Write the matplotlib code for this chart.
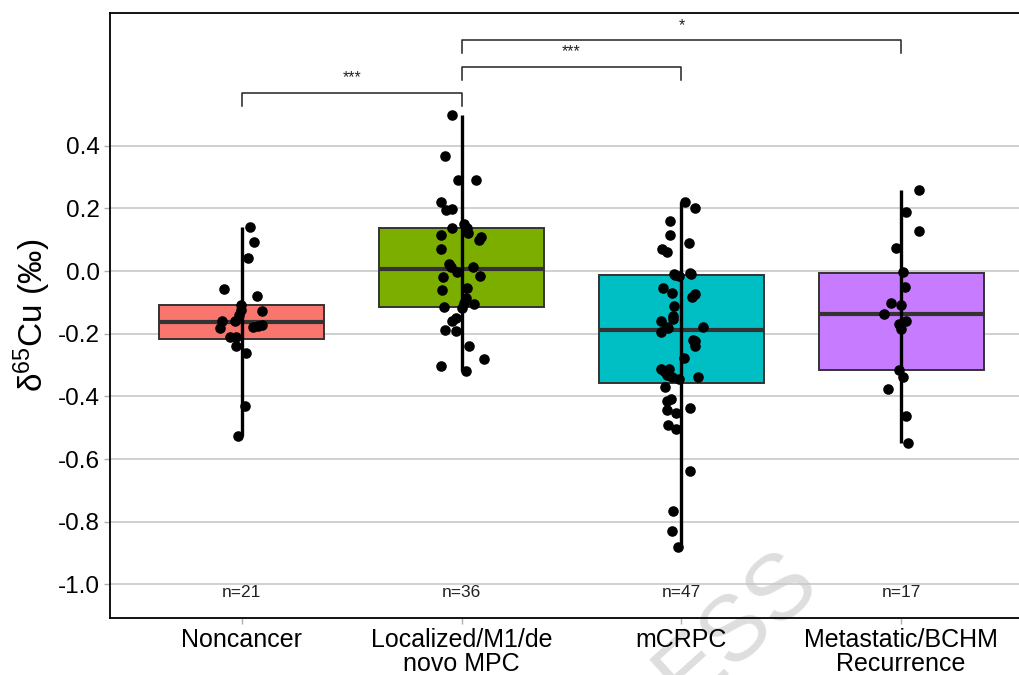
import matplotlib
matplotlib.use('Agg')
import matplotlib.pyplot as plt

plt.rcParams['font.family'] = ['Liberation Sans', 'DejaVu Sans']
plt.rcParams['mathtext.default'] = 'regular'

groups = ['Noncancer', 'Localized/M1/de\nnovo MPC', 'mCRPC', 'Metastatic/BCHM\nRecurrence']
colors = ['#F8766D', '#7CAE00', '#00BFC4', '#C77CFF']
n_labels = ['n=21', 'n=36', 'n=47', 'n=17']

# box stats
q1 = [-0.216, -0.115, -0.357, -0.316]
med = [-0.163, 0.005, -0.189, -0.137]
q3 = [-0.108, 0.137, -0.013, -0.005]

# points (value, horizontal jitter)
noncancer = [0.141, 0.093, 0.042, -0.058, -0.081, -0.129, -0.110, -0.140, -0.158, -0.161, -0.182,
             -0.177, -0.174, -0.171, -0.211, -0.211, -0.240, -0.263, -0.431, -0.526, -0.125]
noncancer_j = [0.036, 0.055, 0.026, -0.082, 0.071, 0.094, -0.005, -0.012, -0.032, -0.090, -0.100,
               0.051, 0.074, 0.094, -0.055, -0.027, -0.027, 0.021, 0.014, -0.017, -0.005]

localized = [0.498, 0.366, 0.291, 0.291, 0.220, 0.194, 0.197, 0.138, 0.151, 0.136, 0.120, 0.114,
             0.098, 0.109, 0.071, 0.022, 0.014, -0.002, 0.012, -0.016, -0.020, -0.060, -0.055, -0.087,
             -0.105, -0.103, -0.115, -0.118, -0.150, -0.158, -0.187, -0.190, -0.240, -0.280, -0.304, -0.320]
localized_j = [-0.045, -0.077, -0.015, 0.064, -0.092, -0.073, -0.045, -0.042, 0.010, 0.023, 0.029, -0.092,
               0.079, 0.090, -0.092, -0.058, -0.047, -0.020, 0.053, 0.083, -0.083, -0.088, 0.023, 0.018,
               0.056, 0.010, -0.081, 0.000, -0.027, -0.045, -0.077, -0.024, 0.033, 0.101, -0.095, 0.018]

mcrpc = [0.220, 0.202, 0.159, 0.116, 0.088, 0.069, 0.061, -0.011, -0.016, -0.005, -0.053, -0.071,
         -0.073, -0.084, -0.111, -0.143, -0.153, -0.161, -0.180, -0.193, -0.177, -0.221, -0.224, -0.238,
         -0.277, -0.312, -0.314, -0.333, -0.339, -0.344, -0.337, -0.369, -0.407, -0.415, -0.443, -0.454,
         -0.437, -0.491, -0.503, -0.637, -0.767, -0.830, -0.880, -0.013, -0.318, -0.010, -0.183]
mcrpc_j = [0.018, 0.060, -0.053, -0.053, 0.033, -0.088, -0.065, -0.035, -0.012, 0.041, -0.085, -0.045,
           0.064, 0.049, -0.032, -0.039, -0.038, -0.095, -0.065, -0.091, 0.097, 0.053, 0.064, 0.060,
           0.010, -0.091, -0.058, -0.065, -0.042, -0.012, 0.074, -0.073, -0.047, -0.065, -0.065, -0.024,
           0.041, -0.060, -0.023, 0.041, -0.038, -0.042, -0.015, -0.027, -0.077, 0.045, -0.059]

metastatic = [0.257, 0.188, 0.128, 0.072, -0.002, -0.052, -0.103, -0.108, -0.138, -0.159, -0.168,
              -0.184, -0.316, -0.338, -0.375, -0.462, -0.549]
metastatic_j = [0.082, 0.023, 0.083, -0.024, 0.010, 0.018, -0.045, -0.001, -0.076, 0.023, -0.009,
                0.000, -0.012, 0.010, -0.060, 0.021, 0.033]

values = [noncancer, localized, mcrpc, metastatic]
jitters = [noncancer_j, localized_j, mcrpc_j, metastatic_j]

# significance brackets: (left group, right group, height, label)
brackets = [(1, 2, 0.569, '***'), (2, 3, 0.652, '***'), (2, 4, 0.737, '*')]

fig = plt.figure(figsize=(10.2, 6.75), dpi=100)
ax = fig.add_axes([0.1078, 0.0844, 0.905, 0.8963])
ax.set_facecolor('none')

pos = [1, 2, 3, 4]
stats = [dict(med=med[i], q1=q1[i], q3=q3[i], whislo=q1[i], whishi=q3[i], fliers=[]) for i in range(4)]
bp = ax.bxp(stats, positions=pos, widths=0.75, patch_artist=True, showcaps=False, showfliers=False,
            boxprops=dict(edgecolor='#333333', linewidth=1.4),
            medianprops=dict(color='#333333', linewidth=3),
            whiskerprops=dict(linewidth=0))
for patch, c in zip(bp['boxes'], colors):
    patch.set_facecolor(c)

for i in range(4):
    ax.vlines(pos[i], min(values[i]), max(values[i]), color='black', linewidth=2.4, zorder=4)
    xs = [pos[i] + j for j in jitters[i]]
    ax.scatter(xs, values[i], s=58, color='black', zorder=5, linewidths=0)
    ax.text(pos[i], -1.027, n_labels[i], ha='center', va='center', fontsize=12.5, color='#222222')

for a, b, h, lab in brackets:
    ax.plot([a, a, b, b], [h - 0.043, h, h, h - 0.043], color='#222222', linewidth=1.1)
    ax.text((a + b) / 2, h + 0.047, lab, ha='center', va='center', fontsize=11.5, color='#222222')

ax.set_xlim(0.4, 4.6)
ax.set_ylim(-1.107, 0.823)
ax.set_xticks(pos)
ax.set_xticklabels(groups, fontsize=18, linespacing=1.0)
yt = [0.4, 0.2, 0.0, -0.2, -0.4, -0.6, -0.8, -1.0]
ax.set_yticks(yt)
ax.set_yticklabels(['%.1f' % v for v in yt], fontsize=17.5)
ax.yaxis.grid(True, color='#c8c8c8', linewidth=1.2)
ax.set_axisbelow(True)
ax.tick_params(axis='both', color='#b0b0b0', length=4, width=1, pad=3)
ax.set_ylabel(r'δ$^{65}$Cu (‰)', fontsize=24, labelpad=4)
for s in ['left', 'bottom', 'top', 'right']:
    ax.spines[s].set_color('black')
    ax.spines[s].set_linewidth(1.3)

fig.text(0.722, 0.07, 'ESS', fontsize=66, color='#dedede', rotation=42,
         ha='center', va='center', zorder=-1)

fig.savefig('out.png', dpi=100, facecolor='white')
